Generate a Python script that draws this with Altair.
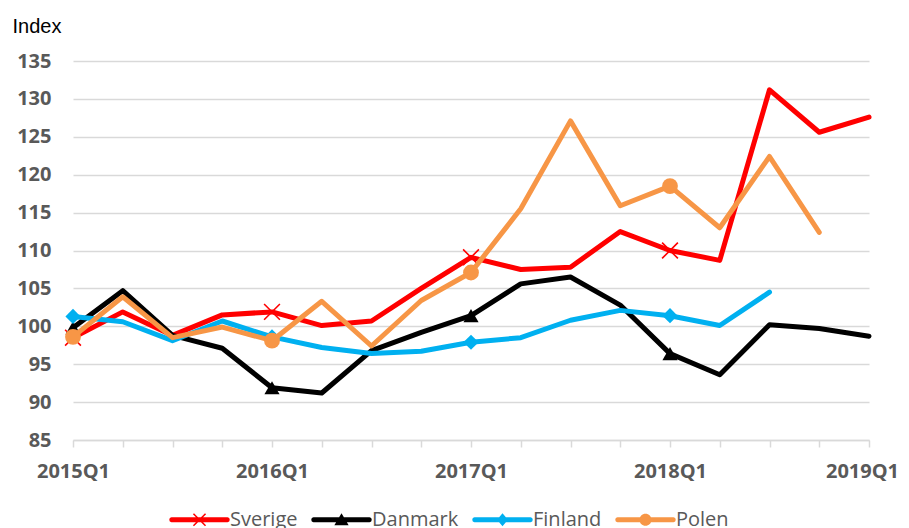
import altair as alt
import pandas as pd

quarters = ["2015Q1", "2015Q2", "2015Q3", "2015Q4", "2016Q1", "2016Q2", "2016Q3", "2016Q4",
            "2017Q1", "2017Q2", "2017Q3", "2017Q4", "2018Q1", "2018Q2", "2018Q3", "2018Q4", "2019Q1"]
sverige = [98.5, 101.9, 98.8, 101.5, 101.9, 100.1, 100.7, 105.0, 109.1, 107.5, 107.8, 112.5, 110.0, 108.7, 131.2, 125.6, 127.6]
danmark = [99.8, 104.7, 98.8, 97.1, 91.9, 91.2, 96.8, 99.2, 101.4, 105.6, 106.5, 102.8, 96.4, 93.6, 100.2, 99.7, 98.7]
finland = [101.3, 100.6, 98.1, 100.7, 98.6, 97.2, 96.4, 96.7, 97.9, 98.5, 100.8, 102.1, 101.4, 100.1, 104.5, None, None]
polen = [98.6, 103.9, 98.5, 99.9, 98.1, 103.3, 97.4, 103.4, 107.1, 115.5, 127.1, 115.9, 118.5, 113.0, 122.4, 112.4, None]
marker_quarters = ["2015Q1", "2016Q1", "2017Q1", "2018Q1"]

names = ["Sverige", "Danmark", "Finland", "Polen"]
values = [sverige, danmark, finland, polen]
colors = ["#FF0000", "#000000", "#00B0F0", "#F79646"]

rows = []
for name, vals in zip(names, values):
    for q, v in zip(quarters, vals):
        if v is not None:
            rows.append({"quarter": q, "series": name, "value": v})
df = pd.DataFrame(rows)

GRAY = "#595959"
GRID = "#D9D9D9"

x_enc = alt.X(
    "quarter:O",
    sort=quarters,
    scale=alt.Scale(type="point", padding=0, domain=quarters),
    axis=alt.Axis(
        title=None, labelAngle=0, labelOverlap=False,
        labelExpr="indexof(datum.value, 'Q1') >= 0 ? datum.value : ''",
        domainColor=GRID, domainWidth=1.5, tickColor=GRID, tickWidth=1.5, tickSize=7,
        labelFont="Open Sans", labelFontWeight="bold", labelFontSize=20, labelColor=GRAY,
        labelPadding=14, labelBaseline="top", grid=False,
        labelOffset={"condition": {"test": "datum.value === '2019Q1'", "value": -7}, "value": 0},
    ),
)
y_enc = alt.Y(
    "value:Q",
    scale=alt.Scale(domain=[85, 135], nice=False, zero=False),
    axis=alt.Axis(
        title="Index", titleAngle=0, titleX=-61, titleY=-29, titleAlign="left",
        titleBaseline="alphabetic", titleFont="Liberation Sans", titleFontSize=20,
        titleFontWeight="normal", titleColor="#000000",
        values=list(range(85, 140, 5)), domain=False, ticks=False,
        labelFont="Open Sans", labelFontWeight="bold", labelFontSize=20, labelColor=GRAY,
        labelPadding=22, gridColor=GRID, gridWidth=1.5,
    ),
)

marker_specs = {
    "Sverige": dict(shape="M-1,-1L1,1M-1,1L1,-1", filled=False, strokeWidth=1.6, size=250),
    "Danmark": dict(shape="triangle-up", filled=True, size=230),
    "Finland": dict(shape="diamond", filled=True, size=230),
    "Polen": dict(shape="circle", filled=True, size=250),
}

layers = []
for name, col in zip(names, colors):
    sub = df[df["series"] == name]
    line = alt.Chart(sub).mark_line(
        color=col, strokeWidth=5, strokeCap="round", strokeJoin="round"
    ).encode(x=x_enc, y=y_enc)
    pts = alt.Chart(sub[sub["quarter"].isin(marker_quarters)]).mark_point(
        color=col, opacity=1, **marker_specs[name]
    ).encode(x=x_enc, y=y_enc)
    layers += [line, pts]

# composite legend symbols (line + marker) in unit coordinates
LINE = ("M-1.02,-0.09L1.02,-0.09L1.08,-0.06L1.1,0L1.08,0.06L1.02,0.09"
        "L-1.02,0.09L-1.08,0.06L-1.1,0L-1.08,-0.06Z")
legend_paths = [
    LINE + "M-0.24,-0.2L-0.2,-0.24L0.24,0.2L0.2,0.24ZM0.2,-0.24L0.24,-0.2L-0.2,0.24L-0.24,0.2Z",
    LINE + "M0,-0.24L0.26,0.2L-0.26,0.2Z",
    LINE + "M0,-0.24L0.2,0L0,0.24L-0.2,0Z",
    LINE + "M0.22,0A0.22,0.22 0 1,1 -0.22,0A0.22,0.22 0 1,1 0.22,0Z",
]

leg = alt.Legend(
    title=None, orient="none", legendX=99, legendY=431, direction="horizontal",
    symbolSize=3025, symbolStrokeWidth=0, symbolOpacity=1,
    labelFont="Open Sans", labelFontSize=20, labelColor=GRAY, labelOffset=3,
    columnPadding=13, padding=0,
)
legend_layer = alt.Chart(df).mark_point(filled=True, opacity=1, strokeWidth=0).encode(
    x=x_enc, y=y_enc,
    color=alt.Color("series:N", scale=alt.Scale(domain=names, range=colors), legend=leg),
    shape=alt.Shape("series:N", scale=alt.Scale(domain=names, range=legend_paths), legend=leg),
).transform_filter("false")

chart = alt.layer(*layers, legend_layer).properties(
    width=796, height=379, background="white",
    padding={"left": 4, "top": 8, "right": 0, "bottom": 0},
).configure_view(stroke=None)

chart.save("out.html", embed_options={"renderer": "svg", "actions": False})
